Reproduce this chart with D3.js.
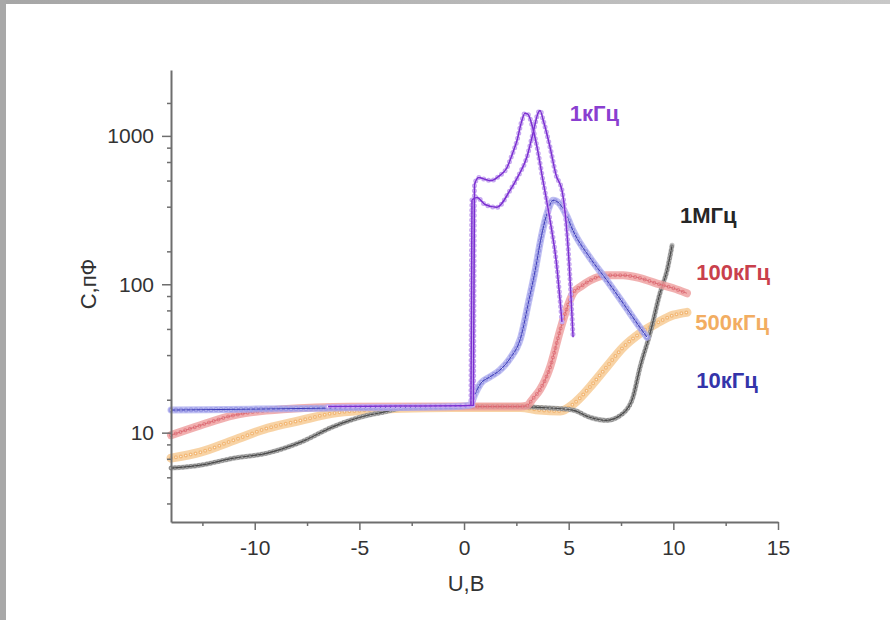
<!DOCTYPE html>
<html><head><meta charset="utf-8">
<script src="https://cdn.jsdelivr.net/npm/d3@7"></script>
<style>body{margin:0;background:#fff} svg{display:block}</style>
</head><body><svg id="c" width="890" height="620"></svg>
<script>
// ---- data (U in volts, C in pF) ----
const xTicksMajor = [-10, -5, 0, 5, 10, 15];
const xTicksMinor = [-12.5, -7.5, -2.5, 2.5, 7.5, 12.5];
const yTicksMajor = [10, 100, 1000];
const yTicksMinor = [3.333, 5, 6.667, 8.333, 16.67, 33.33, 50, 66.67, 83.33, 166.7, 333.3, 500, 666.7, 833.3, 1667];
const xDomain = [-14, 15];
const yDomain = [2.5, 2780];

const s1MHz = [[-14,5.77],[-12.6,6.04],[-11.0,6.73],[-9.4,7.28],[-7.8,8.63],[-6.3,10.9],[-5.45,12.1],[-4.6,13.1],[-3.9,13.7],[-3.0,14.6],[-0.7,15.0],[2.7,15.0],[3.6,14.8],[5.2,14.2],[6.0,12.7],[6.8,12.1],[7.6,13.5],[8.07,17.3],[8.41,27.6],[8.89,46.8],[9.36,87],[9.7,124],[9.94,183]];
const s500kHz = [[-14,6.73],[-12.6,7.39],[-11.0,8.9],[-9.4,10.7],[-7.8,12.1],[-6.3,13.5],[-4.6,14.2],[-3.0,14.6],[-0.7,14.8],[2.7,14.8],[3.6,14.2],[4.6,14.0],[5.2,15.5],[5.6,17.5],[6.0,20.2],[6.8,27.6],[7.6,37.6],[8.4,46.7],[9.2,54.6],[10.0,62],[10.65,64.7]];
const s100kHz = [[-14,9.62],[-12.6,11.2],[-11.0,13.1],[-10.2,13.7],[-8.65,14.4],[-5.45,14.96],[-0.7,15.0],[2.7,15.0],[3.0,15.2],[3.3,17],[3.63,19.5],[4.11,27.6],[4.59,48.9],[4.9,68],[5.21,87],[5.6,97],[6.02,106],[6.83,115],[7.6,115],[8.41,110],[9.22,101],[10.0,94],[10.65,87]];
const s10kHz = [[-14,14.2],[-10.2,14.4],[-5.45,14.7],[-0.67,14.96],[0.29,15.3],[0.5,17.9],[0.8,21.5],[1.2,23.6],[1.7,26.3],[2.2,31.7],[2.7,43.3],[3.1,78],[3.4,124],[3.7,212],[4.0,311],[4.25,368],[4.55,351],[4.9,290],[5.2,231],[6.0,152],[6.83,106],[7.6,74.5],[8.4,51.3],[8.74,44]];
const s1kHzA = [[-6.5,15.0],[-3,15.1],[0,15.2],[0.45,15.3],[0.5,470],[0.7,525],[1.0,510],[1.3,500],[1.7,540],[2.05,610],[2.3,750],[2.53,930],[2.75,1250],[2.91,1420],[3.05,1400],[3.25,1178],[3.49,837],[3.77,501],[4.11,270],[4.4,145],[4.68,55.5]];
const s1kHzB = [[0.33,15.3],[0.38,370],[0.62,385],[1.0,345],[1.56,330],[2.2,430],[2.6,540],[3.0,717],[3.3,1050],[3.55,1440],[3.63,1485],[3.8,1250],[4.11,838],[4.4,542],[4.68,430],[4.97,178],[5.21,44]];

const labels = [
  {text:"1кГц", u:5.05, c:1260, color:"#8a3fd0"},
  {text:"1МГц", u:10.32, c:259, color:"#262626"},
  {text:"100кГц", u:11.1, c:107, color:"#c9404c"},
  {text:"500кГц", u:11.05, c:49.4, color:"#f2ad62"},
  {text:"10кГц", u:11.1, c:20.1, color:"#3434aa"}
];

// ---- drawing ----
const svg = d3.select("#c");
// gray frame
const defs = svg.append("defs");
const g1 = defs.append("linearGradient").attr("id","topg");
g1.append("stop").attr("offset","0").attr("stop-color","#a6a6a6");
g1.append("stop").attr("offset","1").attr("stop-color","#c8c8c8");
svg.append("rect").attr("x",0).attr("y",0).attr("width",890).attr("height",4).attr("fill","url(#topg)");
svg.append("rect").attr("x",0).attr("y",0).attr("width",6).attr("height",620).attr("fill","#a8a8a8");

const x = d3.scaleLinear().domain(xDomain).range([171, 778]);
const y = d3.scaleLog().domain(yDomain).range([522, 70]);

const line = d3.line().x(d => x(d[0])).y(d => y(d[1])).curve(d3.curveMonotoneX);
const plot = svg.append("g");

function band(data, color, w, op) {
  plot.append("path").attr("d", line(data)).attr("fill","none")
    .attr("stroke", color).attr("stroke-width", w).attr("stroke-opacity", op)
    .attr("stroke-linejoin","round").attr("stroke-linecap","round");
}
function rings(data, color, outer, inner, gap) {
  plot.append("path").attr("d", line(data)).attr("fill","none")
    .attr("stroke", color).attr("stroke-width", outer)
    .attr("stroke-dasharray", "0 " + gap).attr("stroke-linecap","round");
  plot.append("path").attr("d", line(data)).attr("fill","none")
    .attr("stroke", "#fff").attr("stroke-width", inner).attr("stroke-opacity",0.85)
    .attr("stroke-dasharray", "0 " + gap).attr("stroke-linecap","round");
}
function thin(data, color, w) {
  plot.append("path").attr("d", line(data)).attr("fill","none")
    .attr("stroke", color).attr("stroke-width", w).attr("stroke-linejoin","round");
}

// 500 kHz
band(s500kHz, "#f6c88e", 9, 0.8);
rings(s500kHz, "#f2b877", 4, 1.5, 5);
// 1 MHz
band(s1MHz, "#9a9a9a", 5, 0.6);
rings(s1MHz, "#8c8c8c", 4.5, 2, 4);
thin(s1MHz, "#4a4a4a", 1.2);
// 100 kHz
band(s100kHz, "#ee9c9c", 8, 0.8);
rings(s100kHz, "#e57f84", 4, 1.5, 5);
thin(s100kHz, "#d6606a", 0.8);
// 10 kHz
band(s10kHz, "#a9a9ee", 7, 0.75);
rings(s10kHz, "#9c9ce6", 5, 2, 5);
thin(s10kHz, "#3c3cb8", 1);
// 1 kHz
rings(s1kHzA, "#c6a7f0", 5, 2.2, 5);
rings(s1kHzB, "#c6a7f0", 5, 2.2, 5);
thin(s1kHzA, "#7b2fd0", 1.5);
thin(s1kHzB, "#7b2fd0", 1.5);

// axes
const axisColor = "#6e6e6e";
const font = "'Liberation Sans', Arial, sans-serif";
const xAxis = svg.append("g").attr("transform","translate(0,522)")
  .call(d3.axisBottom(x).tickValues(xTicksMajor).tickSize(8).tickSizeOuter(0).tickPadding(10).tickFormat(d => String(d)));
const xMinor = svg.append("g").attr("transform","translate(0,522)")
  .call(d3.axisBottom(x).tickValues(xTicksMinor).tickSize(4).tickSizeOuter(0).tickFormat(""));
const yAxis = svg.append("g").attr("transform","translate(171,0)")
  .call(d3.axisLeft(y).tickValues(yTicksMajor).tickSize(9).tickSizeOuter(0).tickPadding(8).tickFormat(d => String(d)));
const yMinor = svg.append("g").attr("transform","translate(171,0)")
  .call(d3.axisLeft(y).tickValues(yTicksMinor).tickSize(4).tickSizeOuter(0).tickFormat(""));
[xAxis, xMinor, yAxis, yMinor].forEach(a => {
  a.select(".domain").attr("stroke", axisColor).attr("stroke-width", 2);
  a.selectAll(".tick line").attr("stroke", axisColor).attr("stroke-width", 1.5);
  a.selectAll(".tick text").attr("fill","#333").style("font-family", font).style("font-size","21px");
});
xMinor.select(".domain").remove(); yMinor.select(".domain").remove();

svg.append("text").attr("x", 466).attr("y", 591).attr("text-anchor","middle")
  .style("font-family", font).style("font-size","22px").attr("fill","#333").text("U,B");
svg.append("text").attr("transform","translate(96,284) rotate(-90)").attr("text-anchor","middle")
  .style("font-family", font).style("font-size","22px").attr("fill","#333").text("C,пФ");

svg.append("g").selectAll("text").data(labels).join("text")
  .attr("x", d => x(d.u)).attr("y", d => y(d.c))
  .style("font-family", font).style("font-size","22px").style("font-weight","bold")
  .attr("fill", d => d.color).text(d => d.text);
</script></body></html>
